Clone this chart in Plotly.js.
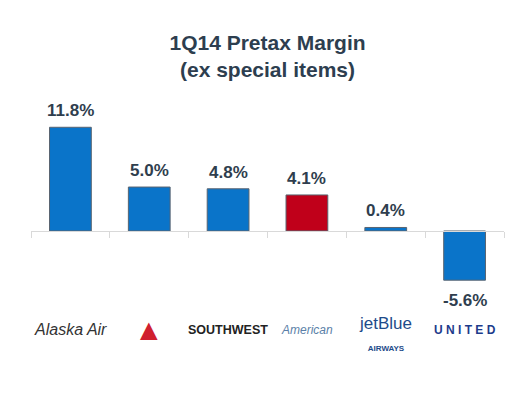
<!DOCTYPE html>
<html>
<head>
<meta charset="utf-8">
<script src="https://cdn.plot.ly/plotly-3.0.1.min.js"></script>
<style>html,body{margin:0;padding:0;background:#fff}#chart{width:517px;height:397px}</style>
</head>
<body>
<div id="chart"></div>
<script>
var airlines = ["Alaska Air", "Delta", "Southwest", "American", "jetBlue", "United"];
var margins = [11.8, 5.0, 4.8, 4.1, 0.4, -5.6];
var barColors = ["#0a74c9", "#0a74c9", "#0a74c9", "#c0001a", "#0a74c9", "#0a74c9"];
var logoTexts = ["<i>Alaska Air</i>", "▲", "<b>SOUTHWEST</b>", "<i>American</i>", "jetBlue<br><span style='font-size:8px'><b>AIRWAYS</b></span>", "<b>U N I T E D</b>"];
var logoColors = ["#333333", "#d0202e", "#222222", "#5b7fa8", "#1e4b8a", "#1d3b8c"];
var logoSizes = [16, 30, 12.5, 12, 17, 12];

var font = "Liberation Sans, Arial, sans-serif";

var trace = {
  type: "bar",
  x: airlines,
  y: margins,
  marker: {color: barColors, line: {color: "#5a6470", width: 1}},
  width: 0.53,
  hoverinfo: "none"
};

var valueLabels = airlines.map(function(a, i){
  var v = margins[i];
  return {
    x: a, xref: "x", y: v, yref: "y",
    text: "<b>" + v.toFixed(1) + "%</b>", showarrow: false,
    font: {family: font, size: 17, color: "#2f3e4e"},
    xanchor: "center",
    yanchor: v >= 0 ? "bottom" : "top",
    yshift: v >= 0 ? 5 : -9
  };
});

var logoLabels = airlines.map(function(a, i){
  return {
    x: a, xref: "x", y: -0.09, yref: "paper",
    text: logoTexts[i], showarrow: false,
    font: {family: font, size: logoSizes[i], color: logoColors[i]},
    xanchor: "center", yanchor: "middle",
    yshift: a === "jetBlue" ? -4 : 0
  };
});

var layout = {
  width: 517, height: 397,
  margin: {l: 31, r: 13, t: 90, b: 87},
  paper_bgcolor: "#ffffff", plot_bgcolor: "#ffffff",
  showlegend: false,
  title: {
    text: "<b>1Q14 Pretax Margin<br>(ex special items)</b>",
    font: {family: font, size: 21, color: "#2d3e4f"},
    x: 0.5, xanchor: "center", xref: "paper",
    y: 0.875, yanchor: "top", yref: "container"
  },
  xaxis: {
    type: "category",
    range: [-0.5, 5.5],
    anchor: "free", position: 0.359,
    showline: true, linecolor: "#d9d9d9", linewidth: 1,
    ticks: "outside", tickson: "boundaries", ticklen: 6, tickcolor: "#d9d9d9",
    showticklabels: false, showgrid: false, zeroline: false, fixedrange: true
  },
  yaxis: {
    range: [-8.99, 16.04],
    visible: false, showgrid: false, zeroline: false, fixedrange: true
  },
  annotations: valueLabels.concat(logoLabels)
};

Plotly.newPlot("chart", [trace], layout, {displayModeBar: false, staticPlot: true});
</script>
</body>
</html>
